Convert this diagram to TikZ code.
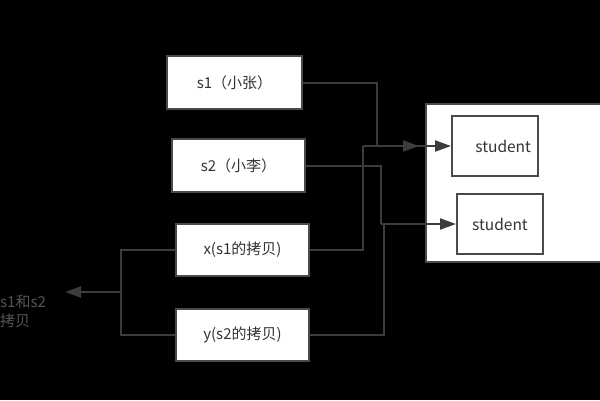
\documentclass[tikz,border=0pt]{standalone}
\usepackage{fontspec}
\setmainfont{Noto Sans CJK SC}
\usetikzlibrary{arrows.meta}
\definecolor{linec}{HTML}{3C3C3C}
\definecolor{boxc}{HTML}{4A4A4A}
\definecolor{txtc}{HTML}{333333}
\definecolor{lblc}{HTML}{555555}
\tikzset{
  box/.style={draw=boxc, line width=2pt, fill=white, text=txtc, font=\fontsize{15}{17}\selectfont, inner sep=0pt},
  conn/.style={draw=linec, line width=2pt},
  arr/.style={conn, -{Triangle[length=16pt,width=11pt]}},
}
\begin{document}
\begin{tikzpicture}[x=1pt,y=-1pt]
\fill[black] (0,0) rectangle (600,400);
\useasboundingbox (0,0) rectangle (600,400);
% boxes
\node[box, minimum width=135pt, minimum height=53pt] (s1) at (234.5,82.5) {s1（小张）};
\node[box, minimum width=133pt, minimum height=53pt] (s2) at (238.5,165.5) {s2（小李）};
\node[box, minimum width=133pt, minimum height=52pt] (x) at (242.5,250) {x(s1的拷贝)};
\node[box, minimum width=133pt, minimum height=52pt] (y) at (242.5,335) {y(s2的拷贝)};
\node[box, minimum width=180pt, minimum height=158pt] (big) at (516,182.5) {};
\node[box, minimum width=86pt, minimum height=60pt, font=\fontsize{15.5}{17}\selectfont, text width=74pt, align=right] (stu1) at (495,146) {student\hspace*{1pt}};
\node[box, minimum width=86pt, minimum height=60pt, font=\fontsize{15.5}{17}\selectfont] (stu2) at (500,224) {student};
% junction coordinates
\coordinate (j1) at (377,146);
\coordinate (e1) at (419,146);
\coordinate (j2) at (363,146);
\coordinate (j3) at (381,224);
\coordinate (j4) at (384,224);
\coordinate (lt) at (121,250);
\coordinate (lb) at (121,335);
\coordinate (lm) at (121,292);
\coordinate (la) at (65,292);
% connectors
\draw[conn] (x.east) -| (j2);
\draw[arr] (j2) -- (stu1.west);
\draw[conn] (s1.east) -| (j1);
\draw[arr] (j1) -- (e1);
\draw[conn] (y.east) -| (j4);
\draw[conn] (s2.east) -| (j3);
\draw[arr] (j3) -- (stu2.west);
\draw[conn] (x.west) -- (lt) -- (lb) -- (y.west);
\draw[arr] (lm) -- (la);
% label
\node[anchor=west, text=lblc, align=left, inner sep=0pt, font=\fontsize{15}{19}\selectfont] (lbl) at (0,311) {s1和s2\\拷贝};
\end{tikzpicture}
\end{document}
